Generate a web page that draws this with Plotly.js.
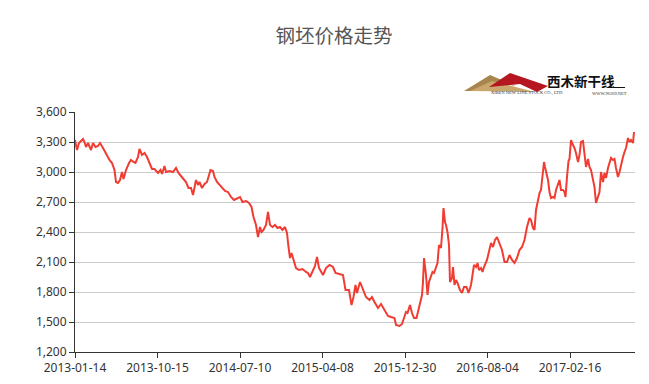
<!DOCTYPE html>
<html>
<head>
<meta charset="utf-8">
<script src="https://cdn.plot.ly/plotly-3.0.1.min.js"></script>
<style>html,body{margin:0;padding:0;background:#fff;}#chart{width:649px;height:384px;}</style>
</head>
<body>
<div id="chart"></div>
<script>
// Trading-day index of each sampled reading (165 trading days between labelled dates)
var dayIndex = [0,4,8,16,19,22,26,29,32,36,41,46,50,56,62,69,74,79,82,86,90,94,97,102,108,112,117,121,126,129,134,139,144,149,154,159,
166,171,174,179,182,189,196,202,207,212,218,222,227,232,236,239,242,246,249,254,259,264,269,271,276,279,284,289,296,300,306,312,318,322,
330,335,342,348,353,357,362,366,370,373,377,382,386,390,395,400,405,410,415,420,424,427,430,433,437,442,448,455,462,466,470,475,480,484,488,
496,502,509,516,521,529,536,541,548,553,557,561,564,570,576,582,589,594,599,606,612,619,626,632,639,642,649,654,
658,662,665,670,674,678,683,687,690,694,696,698,702,705,708,712,715,718,722,725,728,732,735,737,740,742,745,748,750,754,756,759,762,765,770,774,778,783,787,792,795,798,802,805,808,812,815,818,
824,829,832,836,840,844,849,854,859,864,869,874,879,884,889,894,899,904,909,912,916,919,922,926,929,932,938,940,943,946,949,952,956,959,962,966,969,972,976,979,981,984,987,
989,992,996,999,1002,1006,1009,1012,1016,1019,1022,1026,1029,1032,1036,1039,1042,1046,1049,1052,1056,1059,1062,1066,1069,1072,1076,1079,1082,1086,1089,1092,1096,1099,1102,1106,1109,1112,1116,1118];

// Billet price (yuan/ton)
var price = [3320,3220,3290,3330,3300,3250,3290,3260,3220,3290,3250,3260,3290,3240,3180,3120,3090,3020,2900,2890,2920,3000,2930,3020,3090,3120,3100,3090,3150,3230,3170,3190,3150,3090,3030,3030,
2990,3020,2980,3060,3000,3010,3000,3040,2990,2960,2920,2900,2840,2840,2770,2850,2920,2870,2900,2840,2880,2900,2980,3020,3010,2950,2900,2870,2830,2810,2800,2750,2720,2730,
2750,2700,2710,2690,2650,2550,2470,2350,2450,2400,2420,2470,2600,2470,2450,2470,2440,2450,2420,2450,2390,2250,2140,2190,2120,2040,2020,2030,2000,1990,1950,2000,2060,2150,2040,
1970,2040,2070,2050,1990,1980,1970,1820,1820,1670,1750,1870,1790,1900,1820,1750,1720,1750,1700,1640,1680,1620,1560,1550,1540,1470,1460,1480,
1530,1600,1590,1670,1590,1540,1540,1620,1710,1770,1900,2140,1970,1770,1900,1970,2000,1990,2050,2090,2270,2240,2440,2640,2500,2470,2400,2270,1900,1940,2050,1870,1920,1890,1820,1790,1850,1850,1790,1870,1970,2070,2050,2090,2020,2040,2000,2050,
2120,2240,2290,2250,2320,2350,2290,2220,2100,2100,2170,2120,2090,2140,2220,2250,2320,2450,2540,2520,2440,2420,2620,2740,2790,2820,3100,3050,2990,2920,2800,2740,2750,2740,2820,2890,2920,2820,2820,2800,2750,2950,3110,
3130,3320,3270,3240,3190,3100,3170,3300,3310,3200,3050,3130,3050,3020,2920,2850,2690,2770,2800,3000,2900,2990,2940,3040,3080,3140,3120,3130,3040,2950,3000,3080,3150,3200,3240,3340,3300,3320,3290,3400];

var tickIdx = [0,165,330,495,660,825,990];
var tickLabels = ['2013-01-14','2013-10-15','2014-07-10','2015-04-08','2015-12-30','2016-08-04','2017-02-16'];
var chartTitle = '钢坯价格走势';

// logo decoration helpers (pixel -> paper)
var L = 75, T = 112, W = 560, H = 240;
function px(x){ return (x - L) / W; }
function py(y){ return (T + H - y) / H; }
function path(pts){
  return 'M' + pts.map(function(p){ return px(p[0]).toFixed(4) + ',' + py(p[1]).toFixed(4); }).join(' L') + ' Z';
}

var shapes = [
  {type:'path', xref:'paper', yref:'paper', path: path([[464,91],[490,75],[516,86],[501,83],[478,91]]),
   fillcolor:'#a8854f', line:{width:0}, layer:'above'},
  {type:'path', xref:'paper', yref:'paper', path: path([[470,91],[492,81],[535,92]]),
   fillcolor:'#c9a66b', line:{width:0}, layer:'above'},
  {type:'path', xref:'paper', yref:'paper', path: path([[489,87],[510,73],[548,86],[537,92],[520,84]]),
   fillcolor:'#b5161f', line:{width:0}, layer:'above'},
  {type:'line', xref:'paper', yref:'paper', x0:px(608), x1:px(625), y0:py(87.5), y1:py(87.5),
   line:{color:'#111', width:1}, layer:'above'}
];

var annotations = [
  {xref:'paper', yref:'paper', x:px(581), y:py(80.5), text:'<b>西木新干线</b>', showarrow:false,
   font:{family:'Noto Sans CJK SC', size:13.5, color:'#111'}, xanchor:'center', yanchor:'middle',
   borderpad:0, height:15},
  {xref:'paper', yref:'paper', x:px(527), y:py(93.5), text:'XIBEN NEW LINE STOCK CO., LTD.', showarrow:false,
   font:{family:'Liberation Serif', size:4.5, color:'#333'}, xanchor:'center', yanchor:'middle', borderpad:0},
  {xref:'paper', yref:'paper', x:px(609), y:py(93.5), text:'WWW.96369.NET', showarrow:false,
   font:{family:'Liberation Serif', size:4.5, color:'#333'}, xanchor:'center', yanchor:'middle', borderpad:0}
];

var trace = {
  x: dayIndex,
  y: price,
  type: 'scatter',
  mode: 'lines',
  line: {color:'#f03c32', width:2},
  hoverinfo: 'y'
};

var layout = {
  width: 649, height: 384,
  margin: {l:75, r:14, t:112, b:32},
  paper_bgcolor: '#fff', plot_bgcolor: '#fff',
  showlegend: false,
  title: {text: chartTitle, x: 334/649, xanchor:'center', y: 1 - 36/384, yanchor:'middle',
          font: {family:'Noto Sans CJK SC', size:19.5, color:'#555'}},
  xaxis: {
    range: [0, 1120], tickmode:'array', tickvals: tickIdx, ticktext: tickLabels,
    showgrid: false, zeroline: false, showline: true, linecolor:'#333', linewidth:1,
    ticks:'outside', ticklen:5, tickcolor:'#333',
    tickfont: {family:'Noto Sans, sans-serif', size:12, color:'#333'}
  },
  yaxis: {
    range: [1200, 3600], tick0: 1200, dtick: 300, tickformat: ',d',
    showgrid: true, gridcolor:'#ccc', gridwidth:1, zeroline: false,
    showline: true, linecolor:'#333', linewidth:1,
    ticks:'outside', ticklen:5, tickcolor:'#333',
    tickfont: {family:'Noto Sans, sans-serif', size:12, color:'#333'}
  },
  shapes: shapes,
  annotations: annotations,
  font: {family:'Noto Sans, sans-serif'}
};

Plotly.newPlot('chart', [trace], layout, {displayModeBar:false, staticPlot:true});
</script>
</body>
</html>
